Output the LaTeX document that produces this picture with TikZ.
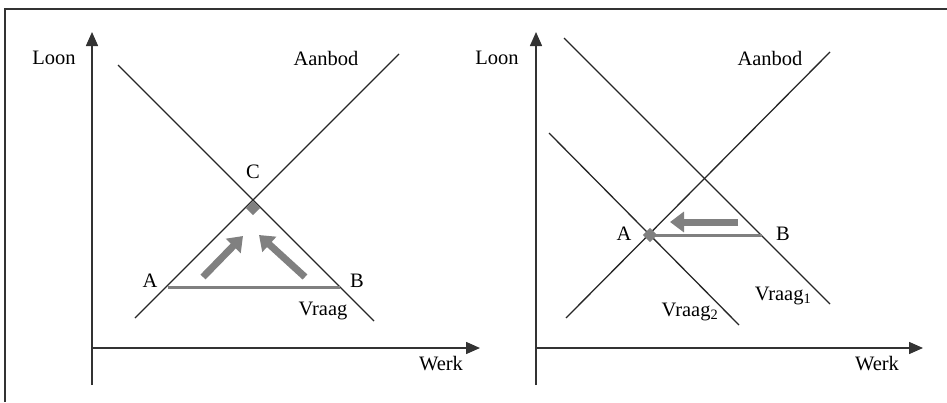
\documentclass[tikz,border=0pt]{standalone}
\usepackage{fontspec}
\setmainfont{Liberation Serif}
\usetikzlibrary{arrows.meta}

\begin{document}
\begin{tikzpicture}[x=1pt,y=-1pt,>={Triangle[length=14pt,width=12pt]},
  font=\fontsize{20.5}{24}\selectfont,line cap=butt]
\useasboundingbox (0,0) rectangle (947,402);
\tikzset{
  curve/.style={black!85,line width=1.3pt},
  axis/.style={black!80,line width=1.5pt,->},
  gapline/.style={black!50,line width=3pt},
  move/.style={black!50,line width=7pt,-{Triangle[length=14pt,width=20pt]}},
  eqdot/.style={fill=black!50,draw=none,minimum size=10pt,inner sep=0pt,rotate=45,shape=rectangle}
}
% frame
\draw[black!80,line width=2pt] (5,402) -- (5,9) -- (947,9);
% left panel
\draw[axis] (92,385) -- (92,32);
\draw[axis] (92,348) -- (480,348);
\draw[curve] (135,318) -- (399,54);
\draw[curve] (118,65) -- (374,321);
\draw[gapline] (168,287) -- (340,287);
\draw[move] (203,277) -- (243,236);
\draw[move] (305,277) -- (259,235);
\node[eqdot] (c) at (253,208) {};
\node (loonl) at (54,58) {Loon};
\node (werkl) at (441,364) {Werk};
\node (aanl) at (326,58) {Aanbod};
\node (vraag) at (323,311) {Vraag};
\node (cl) at (253,172) {C};
\node (al) at (150,281) {A};
\node (bl) at (357,281) {B};
% right panel
\draw[axis] (536,385) -- (536,32);
\draw[axis] (536,348) -- (923,348);
\draw[curve] (566,318) -- (830,52);
\draw[curve] (564,38) -- (830,304);
\draw[curve] (549,133) -- (739,325);
\draw[gapline] (650,235) -- (762,235);
\draw[move] (738,222) -- (670,222);
\node[eqdot] (a) at (650,235) {};
\node (loonr) at (497,58) {Loon};
\node (werkr) at (877,364) {Werk};
\node (aanr) at (770,58) {Aanbod};
\node (vraag1) at (783,296) {Vraag\textsubscript{1}};
\node (vraag2) at (690,312) {Vraag\textsubscript{2}};
\node (ar) at (624,234) {A};
\node (br) at (783,234) {B};
\end{tikzpicture}
\end{document}
